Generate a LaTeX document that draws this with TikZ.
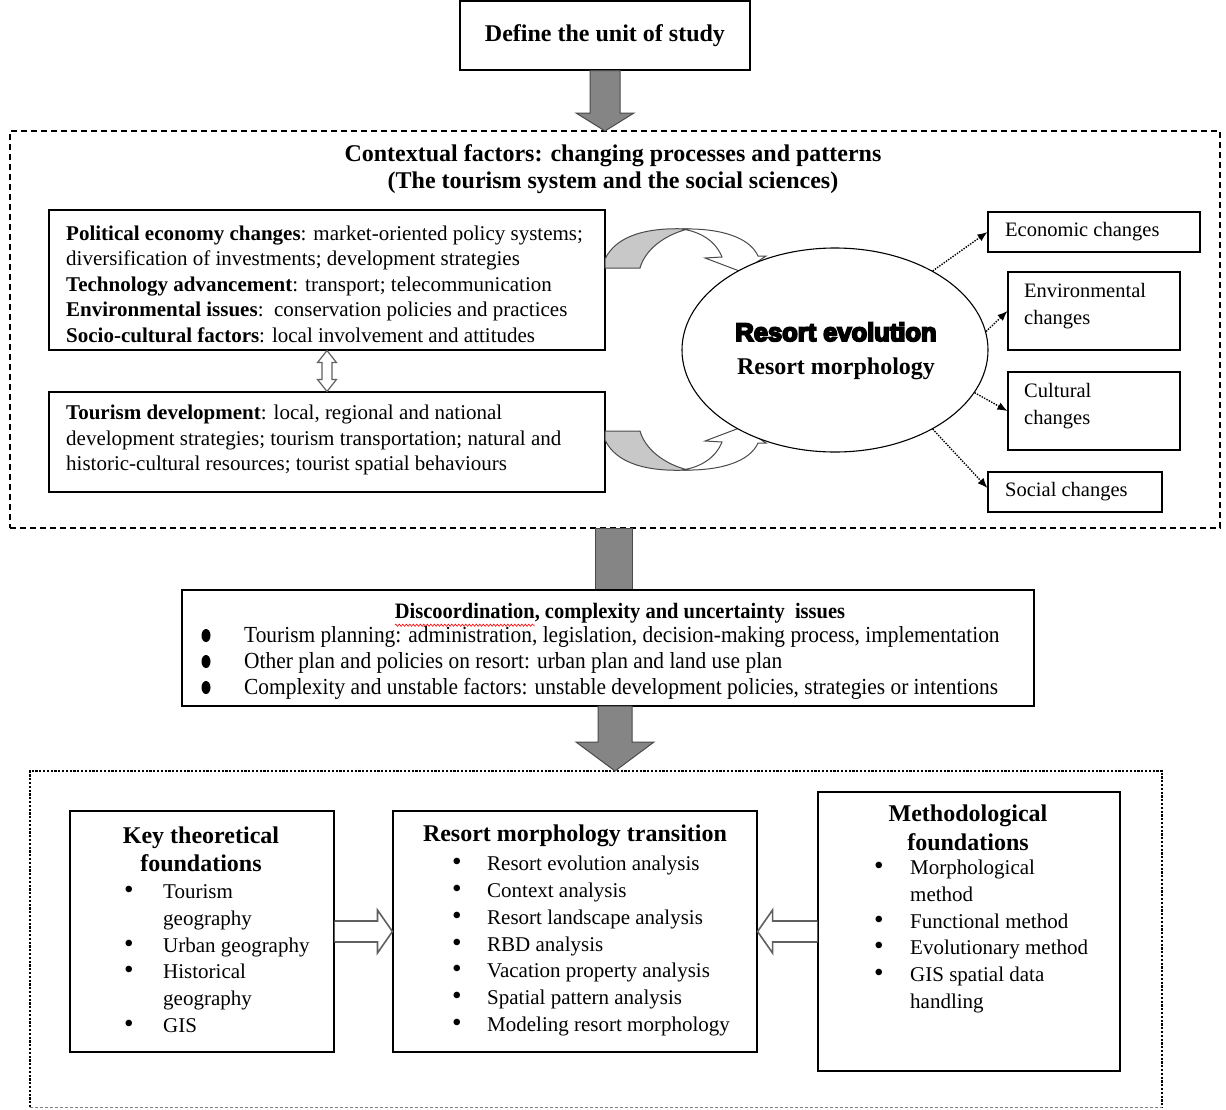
\documentclass[tikz,border=0pt]{standalone}
\usepackage{fontspec}
\setmainfont{Liberation Serif}
\newfontfamily\narrowserif[FakeStretch=0.93]{Liberation Serif}
\newfontfamily\heavyfont[FakeBold=7]{Liberation Sans}
\usepackage{graphicx}
\usetikzlibrary{shapes.geometric,arrows.meta,calc,decorations.pathmorphing}

\definecolor{arrowgray}{HTML}{858585}
\definecolor{arrowedge}{HTML}{4A4A4A}
\definecolor{backgray}{HTML}{C8C8C8}
\definecolor{hollowedge}{HTML}{606060}

\newcommand\keybul{\makebox[39pt][l]{\scalebox{1.3}{\textbullet}}}
\newcommand\midbul{\makebox[35pt][l]{\scalebox{1.3}{\textbullet}}}
\newcommand\methbul{\makebox[36pt][l]{\scalebox{1.3}{\textbullet}}}

\newcommand\curvedarrowshape{%
  \filldraw[fill=backgray, draw=arrowedge, line width=1pt]
    (605,268) -- (605,259) .. controls (616,236) and (646,227) .. (688,229)
    .. controls (664,235) and (645,250) .. (640,268) -- cycle;
  \filldraw[fill=white, draw=arrowedge, line width=1pt]
    (682,229) .. controls (722,228) and (750,238) .. (758,256) -- (766,256)
    -- (742,272) -- (705,258) -- (722,257) .. controls (716,242) and (702,232) .. (682,229) -- cycle;
}

\tikzset{
  plainbox/.style={draw, line width=1.1pt, fill=white, inner sep=0pt},
  titlefont/.style={font=\fontsize{24}{28}\selectfont\bfseries},
  bodytext/.style={font=\fontsize{21}{25.5}\selectfont, align=left, inner sep=0pt},
  listtext/.style={font=\fontsize{21}{26.7}\selectfont, align=left, inner sep=0pt},
  changetext/.style={font=\fontsize{20.5}{27}\selectfont, align=left, inner sep=0pt},
  blockarrow/.style={fill=arrowgray, draw=arrowedge, line width=1pt},
  hollowarrow/.style={draw=hollowedge, fill=white, line width=1.6pt, line join=miter},
  dotarrow/.style={line width=1.4pt, dash pattern=on 1.4pt off 1.3pt, -{Latex[length=10pt,width=8pt]}},
  framedots/.style={line width=2.2pt, dash pattern=on 2.2pt off 1.6pt},
  bigbullet/.style={fill=black},
}

\begin{document}
\begin{tikzpicture}[x=1pt,y=-1pt]
\useasboundingbox (0,0) rectangle (1226,1109);

% context frame
\node[draw, line width=1.2pt, dash pattern=on 6pt off 4pt, minimum width=1210, minimum height=397, inner sep=0pt] (ctx) at (615,329.5) {};

% top box and first arrow
\node[plainbox, minimum width=290, minimum height=69, titlefont] (top) at (605,35.5) {Define the unit of study};
\coordinate (a1tip) at (605,131);
\draw[blockarrow] ($(top.south)+(-15,0)$) -- ($(top.south)+(15,0)$) -- ($(a1tip)+(15,-18)$) -- ($(a1tip)+(29,-18)$) -- (a1tip) -- ($(a1tip)+(-29,-18)$) -- ($(a1tip)+(-15,-18)$) -- cycle;

\node[font=\fontsize{24}{27}\selectfont\bfseries, align=center, inner sep=0pt] (ctxtitle) at (613,169.5) {Contextual factors: changing processes and patterns\\(The tourism system and the social sciences)};

% political economy box
\node[plainbox, minimum width=556, minimum height=140] (pe) at (327,280) {};
\node[bodytext, anchor=west] (petext) at (66,284) {\textbf{Political economy changes}: market-oriented policy systems;\\
diversification of investments; development strategies\\
\textbf{Technology advancement}: transport; telecommunication\\
\textbf{Environmental issues}:\ \ conservation policies and practices\\
\textbf{Socio-cultural factors}: local involvement and attitudes};

% tourism development box
\node[plainbox, minimum width=556, minimum height=100] (td) at (327,442) {};
\node[bodytext, anchor=west] (tdtext) at (66,440) {\textbf{Tourism development}: local, regional and national\\
development strategies; tourism transportation; natural and\\
historic-cultural resources; tourist spatial behaviours};

% hollow double arrow
\draw[hollowarrow, line width=1.2pt] (pe.south) -- ++(9.5,12) -- ++(-4.5,0) -- ($(td.north)+(5,-12)$) -- ++(4.5,0) -- (td.north) -- ++(-9.5,-12) -- ++(4.5,0) -- ($(pe.south)+(-5,12)$) -- ++(-4.5,0) -- cycle;

% curved arrows
\curvedarrowshape
\begin{scope}[shift={(0,699)}, yscale=-1]
\curvedarrowshape
\end{scope}

% ellipse
\node[ellipse, draw, line width=1.1pt, fill=white, minimum width=306, minimum height=204, inner sep=0pt] (ell) at (835,350) {};
\node[align=center, inner sep=0pt, font=\fontsize{24}{33}\selectfont] (elltext) at (836,351) {{\heavyfont\bfseries\fontsize{25.5}{33}\selectfont Resort evolution}\\{\bfseries Resort morphology}};

% change boxes
\node[plainbox, minimum width=212, minimum height=40] (econ) at (1094,232) {};
\node[changetext, anchor=west] (econtext) at (1005,232) {Economic changes};
\node[plainbox, minimum width=172, minimum height=78] (env) at (1094,311) {};
\node[changetext, anchor=west] (envtext) at (1024,306.5) {Environmental\\changes};
\node[plainbox, minimum width=172, minimum height=78] (cult) at (1094,411) {};
\node[changetext, anchor=west] (culttext) at (1024,406.5) {Cultural\\changes};
\node[plainbox, minimum width=174, minimum height=40] (soc) at (1075,492) {};
\node[changetext, anchor=west] (soctext) at (1005,492) {Social changes};

\draw[dotarrow] (ell.39) -- (econ.west);
\draw[dotarrow] (ell.7) -- (env.west);
\draw[dotarrow] (ell.-17) -- (cult.west);
\draw[dotarrow] (ell.-39) -- ($(soc.west)+(0,-4)$);

% second arrow
\coordinate (a2top) at (613.5,528);
\coordinate (a2bot) at (613.5,590);
\draw[blockarrow] ($(a2top)+(-18.5,0)$) rectangle ($(a2bot)+(18.5,0)$);

% discoordination box
\node[plainbox, minimum width=852, minimum height=116] (disc) at (608,648) {};
\node[font=\narrowserif\bfseries\fontsize{22}{26}\selectfont, inner sep=0pt] (disctitle) at (620,613) {Discoordination, complexity and uncertainty\ \ issues};
\draw[red, line width=0.6pt, decorate, decoration={snake, amplitude=1.1pt, segment length=3.5pt}] ($(disctitle.south west)+(0,2)$) -- ++(140,0);
\node[font=\narrowserif\fontsize{23}{26}\selectfont, align=left, inner sep=0pt, anchor=west] (disclist) at (244,663) {Tourism planning: administration, legislation, decision-making process, implementation\\
Other plan and policies on resort: urban plan and land use plan\\
Complexity and unstable factors: unstable development policies, strategies or intentions};
\fill[bigbullet] (206,635.5) ellipse [x radius=4.5, y radius=6.5];
\fill[bigbullet] (206,661.5) ellipse [x radius=4.5, y radius=6.5];
\fill[bigbullet] (206,687.5) ellipse [x radius=4.5, y radius=6.5];

% foundations frame
\node[minimum width=1132, minimum height=336, inner sep=0pt] (found) at (596,939) {};
\draw[framedots] (found.south west) -- (found.north west) -- (found.north east) -- (found.south east);
\draw[gray, line width=1pt, dash pattern=on 3pt off 2pt] (found.south west) -- (found.south east);

% third arrow
\coordinate (a3top) at (615,706);
\coordinate (a3tip) at (615,771);
\draw[blockarrow] ($(a3top)+(-17,0)$) -- ($(a3top)+(17,0)$) -- ($(a3tip)+(17,-29)$) -- ($(a3tip)+(39,-29)$) -- (a3tip) -- ($(a3tip)+(-39,-29)$) -- ($(a3tip)+(-17,-29)$) -- cycle;

% key theoretical foundations
\node[plainbox, minimum width=264, minimum height=241] (key) at (202,931.5) {};
\node[titlefont, align=center, inner sep=0pt] (keytitle) at (201,849) {Key theoretical\\foundations};
\node[listtext, anchor=west] (keylist) at (124,958.5) {\keybul Tourism\\\hspace*{39pt}geography\\\keybul Urban geography\\\keybul Historical\\\hspace*{39pt}geography\\\keybul GIS};

% resort morphology transition
\node[plainbox, minimum width=364, minimum height=241] (mid) at (575,931.5) {};
\node[titlefont, inner sep=0pt] (midtitle) at (575,836) {Resort morphology transition};
\node[listtext, anchor=west] (midlist) at (452,946) {\midbul Resort evolution analysis\\\midbul Context analysis\\\midbul Resort landscape analysis\\\midbul RBD analysis\\\midbul Vacation property analysis\\\midbul Spatial pattern analysis\\\midbul Modeling resort morphology};

% methodological foundations
\node[plainbox, minimum width=302, minimum height=279] (meth) at (969,931.5) {};
\node[font=\fontsize{24}{29}\selectfont\bfseries, align=center, inner sep=0pt] (methtitle) at (968,827.5) {Methodological\\foundations};
\node[listtext, anchor=west] (methlist) at (874,936.5) {\methbul Morphological\\\hspace*{36pt}method\\\methbul Functional method\\\methbul Evolutionary method\\\methbul GIS spatial data\\\hspace*{36pt}handling};

% hollow arrows into the middle box
\draw[hollowarrow] ($(key.east)+(0,-10.5)$) -- ($(mid.west)+(-15,-10.5)$) -- ($(mid.west)+(-15,-21.5)$) -- (mid.west) -- ($(mid.west)+(-15,21.5)$) -- ($(mid.west)+(-15,10.5)$) -- ($(key.east)+(0,10.5)$);
\draw[hollowarrow] ($(meth.west)+(0,-10.5)$) -- ($(mid.east)+(15,-10.5)$) -- ($(mid.east)+(15,-21.5)$) -- (mid.east) -- ($(mid.east)+(15,21.5)$) -- ($(mid.east)+(15,10.5)$) -- ($(meth.west)+(0,10.5)$);

\end{tikzpicture}
\end{document}
